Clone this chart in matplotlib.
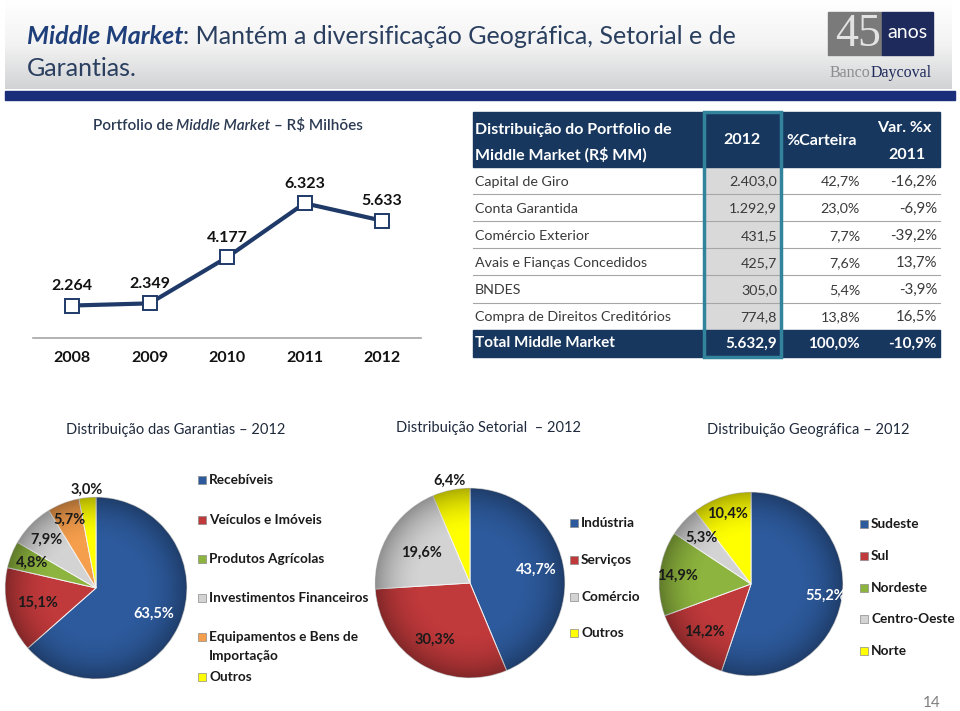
import numpy as np
import matplotlib
matplotlib.use('Agg')
import matplotlib.pyplot as plt
from matplotlib.patches import Rectangle, Circle
from matplotlib.colors import LinearSegmentedColormap

plt.rcParams['font.family'] = ['Lato', 'DejaVu Sans']

# ---- data ----
years = ['2008', '2009', '2010', '2011', '2012']
portfolio = [2264, 2349, 4177, 6323, 5633]
portfolio_labels = ['2.264', '2.349', '4.177', '6.323', '5.633']

table_header = ['Distribuição do Portfolio de\nMiddle Market (R\\$ MM)', '2012', '%Carteira', 'Var. %x\n2011']
table_rows = ['Capital de Giro', 'Conta Garantida', 'Comércio Exterior',
              'Avais e Fianças Concedidos', 'BNDES', 'Compra de Direitos Creditórios']
table_2012 = ['2.403,0', '1.292,9', '431,5', '425,7', '305,0', '774,8']
table_share = ['42,7%', '23,0%', '7,7%', '7,6%', '5,4%', '13,8%']
table_var = ['-16,2%', '-6,9%', '-39,2%', '13,7%', '-3,9%', '16,5%']
table_total = ['Total Middle Market', '5.632,9', '100,0%', '-10,9%']

garantias_labels = ['Recebíveis', 'Veículos e Imóveis', 'Produtos Agrícolas',
                    'Investimentos Financeiros', 'Equipamentos e Bens de\nImportação', 'Outros']
garantias_values = [63.5, 15.1, 4.8, 7.9, 5.7, 3.0]
setorial_labels = ['Indústria', 'Serviços', 'Comércio', 'Outros']
setorial_values = [43.7, 30.3, 19.6, 6.4]
geo_labels = ['Sudeste', 'Sul', 'Nordeste', 'Centro-Oeste', 'Norte']
geo_values = [55.2, 14.2, 14.9, 5.3, 10.4]

BLUE, RED, GREEN, GREY, ORANGE, YELLOW = '#2D5A9C', '#C0393B', '#8DB43E', '#D3D3D3', '#F59E4C', '#FFFF00'
NAVY = '#17375E'

W, H = 960, 711
fig = plt.figure(figsize=(W / 100, H / 100), dpi=100)
bg = fig.add_axes([0, 0, 1, 1])
bg.axis('off')


def px_axes(x0, y0, x1, y1):
    return fig.add_axes([x0 / W, 1 - y1 / H, (x1 - x0) / W, (y1 - y0) / H])


def fmt_pct(v):
    return f'{v:.1f}%'.replace('.', ',')


renderer = fig.canvas.get_renderer()


def text_width(s, **kw):
    t = bg.text(0, 0, s, **kw)
    w = t.get_window_extent(renderer).width
    t.remove()
    return w


def draw_runs(x, y, runs, center=False, **kw):
    # runs: list of (string, style); a leading space means a word gap
    gap = text_width('a a', **kw) - text_width('aa', **kw)
    items = []
    for s, style in runs:
        lead = gap if s.startswith(' ') else 0
        t = bg.text(0, y, s.strip(), va='center', ha='left', **kw, **style)
        items.append((t, lead, t.get_window_extent(renderer).width))
    total = sum(l + w for _, l, w in items)
    cx = x - total / 2 if center else x
    for t, lead, w in items:
        cx += lead
        t.set_x(cx)
        cx += w


# ---- header band ----
grad = LinearSegmentedColormap.from_list('hdr', ['#ffffff', '#f3f3f3', '#d2d3d5'])
bg.imshow(np.linspace(0, 1, 100).reshape(-1, 1), cmap=grad, aspect='auto',
          extent=[5, 952, 89, 0], zorder=0)
bg.add_patch(Rectangle((5, 91), 950, 9, color='#1B2E7A', zorder=1))

draw_runs(27, 36, [('Middle Market', dict(fontweight='bold', fontstyle='italic', color='#1F3F7A')),
                   (': Mantém a diversificação Geográfica, Setorial e de', dict(color='#2A3F5F'))],
          fontsize=18)
bg.text(27, 68, 'Garantias.', fontsize=18, color='#2A3F5F', va='center')

# logo
bg.add_patch(Rectangle((828, 12), 54, 43, color='#7a7a7a', zorder=2))
bg.add_patch(Rectangle((882, 12), 51, 43, color='#1F2A5C', zorder=2))
bg.text(858, 35, '45', fontsize=33, family='Liberation Serif', color='#e2e2e2',
        ha='center', va='center', zorder=3)
bg.text(907, 33, 'anos', fontsize=14, color='white', ha='center', va='center', zorder=3)
draw_runs(830, 73, [('Banco', dict(color='#8c8c8c')), ('Daycoval', dict(color='#1F2A5C'))],
          fontsize=11.5, family='Liberation Serif')

# ---- line chart ----
draw_runs(228, 126, [('Portfolio de', {}),
                     (' Middle Market', dict(fontstyle='italic')),
                     (' – R\\$ Milhões', {})],
          center=True, fontsize=11, color='#2B3A52', fontweight='semibold')

ax = px_axes(33.3, 160, 420.8, 337.5)
ax.patch.set_alpha(0)
x = np.arange(len(years))
ax.plot(x, portfolio, color='#1F3A68', lw=3, marker='s', ms=10,
        mfc='white', mec='#1F3A68', mew=1.4, zorder=3)
for xi, v, lbl in zip(x, portfolio, portfolio_labels):
    ax.annotate(lbl, (xi, v), xytext=(0, 14), textcoords='offset points',
                ha='center', va='center', fontsize=11.5, fontweight='bold', color='#111111')
ax.set_xlim(-0.5, 4.5)
ax.set_ylim(995, 8040)
for s in ['left', 'right', 'top']:
    ax.spines[s].set_visible(False)
ax.spines['bottom'].set_color('#A6A6A6')
ax.spines['bottom'].set_linewidth(1.2)
ax.set_yticks([])
ax.set_xticks(x, years, fontsize=11.5, fontweight='bold', color='#111111')
ax.tick_params(axis='x', length=0, pad=10)

# ---- table ----
left, c2l, c2r, right = 473, 703.5, 780.5, 940
hdr_top, hdr_bot, row_h = 112, 167, 27.1
tot_top = hdr_bot + row_h * len(table_rows)
tot_bot = 357
bg.add_patch(Rectangle((left, hdr_top), right - left, hdr_bot - hdr_top, color=NAVY, zorder=2))
bg.add_patch(Rectangle((left, tot_top), right - left, tot_bot - tot_top, color=NAVY, zorder=2))
bg.add_patch(Rectangle((c2l, hdr_bot), c2r - c2l, tot_top - hdr_bot, color='#D9D9D9', zorder=1))
for i in range(1, len(table_rows)):
    yl = hdr_bot + i * row_h
    bg.plot([left, right], [yl, yl], color='#A6A6A6', lw=0.8, zorder=2)
bg.add_patch(Rectangle((c2l, hdr_top), c2r - c2l, tot_bot - hdr_top, fill=False,
                       ec='#31849B', lw=2.5, zorder=4))

hw = dict(color='white', fontweight='bold', fontsize=11.5, va='center', zorder=3)
l1, l2 = table_header[0].split('\n')
bg.text(left + 2, 130, l1, ha='left', **hw)
bg.text(left + 2, 155, l2, ha='left', **hw)
bg.text(742, 140, table_header[1], ha='center', **hw)
bg.text(822, 141, table_header[2], ha='center', **hw)
v1, v2 = table_header[3].split('\n')
bg.text(904, 128, v1, ha='center', **hw)
bg.text(907, 155, v2, ha='center', **hw)

bw = dict(color='#3A3A3A', fontsize=10.3, va='center', zorder=3)
for i, (lbl, a, b, c) in enumerate(zip(table_rows, table_2012, table_share, table_var)):
    yc = hdr_bot + (i + 0.5) * row_h + 1
    bg.text(left + 2, yc, lbl, ha='left', **bw)
    bg.text(777, yc, a, ha='right', **bw)
    bg.text(860, yc, b, ha='right', **bw)
    bg.text(937, yc, c, ha='right', **dict(bw, fontsize=10.8))
yc = (tot_top + tot_bot) / 2
tw = dict(hw, fontsize=11)
bg.text(left + 2, yc, table_total[0], ha='left', **tw)
bg.text(777, yc, table_total[1], ha='right', **tw)
bg.text(860, yc, table_total[2], ha='right', **tw)
bg.text(937, yc, table_total[3], ha='right', **tw)

# ---- pie section titles ----
sec = dict(fontsize=10.5, color='#1F2A3C', ha='center', va='center')
bg.text(176, 430, 'Distribuição das Garantias – 2012', **sec)
bg.text(489, 428, 'Distribuição Setorial  – 2012', **sec)
bg.text(808, 430, 'Distribuição Geográfica – 2012', **sec)


def draw_pie(cx, cy, r, values, colors, label_r, legend_x, legend_ys, labels):
    pad = 6
    a = px_axes(cx - r - pad, cy - r - pad, cx + r + pad, cy + r + pad)
    wedges, _ = a.pie(values, colors=colors, startangle=90, counterclock=False,
                      wedgeprops=dict(edgecolor='#f4f4f4', linewidth=0.7))
    # soft shading toward the rim
    n = 240
    yy, xx = np.mgrid[-1:1:n * 1j, -1:1:n * 1j]
    rr = np.sqrt(xx ** 2 + yy ** 2)
    img = np.zeros((n, n, 4))
    img[..., 3] = np.clip((rr - 0.5) / 0.5, 0, 1) ** 2 * 0.32
    im = a.imshow(img, extent=[-1, 1, -1, 1], zorder=3)
    im.set_clip_path(Circle((0, 0), 1, transform=a.transData))
    for k, (wdg, v, lr) in enumerate(zip(wedges, values, label_r)):
        ang = np.deg2rad((wdg.theta1 + wdg.theta2) / 2)
        a.text(lr * np.cos(ang), lr * np.sin(ang), fmt_pct(v), ha='center', va='center',
               fontsize=10.5, fontweight='bold', color='white' if k == 0 else '#1a1a1a', zorder=5)
    lim = (r + pad) / r
    a.set_xlim(-lim, lim)
    a.set_ylim(-lim, lim)
    a.set_aspect('equal')
    a.axis('off')
    for col, lbl, ly in zip(colors, labels, legend_ys):
        bg.add_patch(Rectangle((legend_x, ly - 4), 8, 8, facecolor=col, edgecolor='#8a8a8a',
                               lw=0.5, zorder=3))
        lines = lbl.split('\n')
        for j, ln in enumerate(lines):
            bg.text(legend_x + 11, ly + j * 19.5, ln, fontsize=9.8, fontweight='bold',
                    color='#1a1a1a', va='center', ha='left')


draw_pie(96, 588, 91, garantias_values, [BLUE, RED, GREEN, GREY, ORANGE, YELLOW],
         [0.7, 0.66, 0.76, 0.76, 0.8, 1.08], 198, [480, 520, 559, 598, 637, 677], garantias_labels)
draw_pie(470, 583, 95, setorial_values, [BLUE, RED, GREY, YELLOW],
         [0.71, 0.7, 0.6, 1.1], 570, [523, 560, 597, 633], setorial_labels)
draw_pie(751, 584, 92, geo_values, [BLUE, RED, GREEN, GREY, YELLOW],
         [0.82, 0.73, 0.8, 0.74, 0.81], 860, [524, 556, 588, 619, 651], geo_labels)

bg.text(932, 703, '14', fontsize=11, color='#7f7f7f', ha='center', va='center')

bg.set_xlim(0, W)
bg.set_ylim(H, 0)
fig.savefig('out.png', dpi=100)
